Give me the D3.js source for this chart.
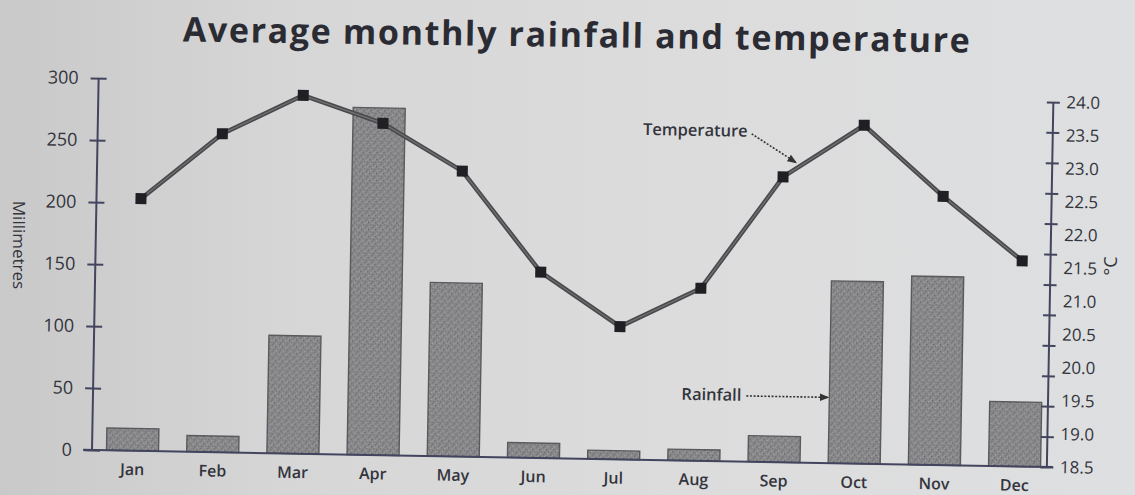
<!DOCTYPE html>
<html><head><meta charset="utf-8">
<script src="https://cdn.jsdelivr.net/npm/d3@7/dist/d3.min.js"></script>
<style>
html,body{margin:0;padding:0;background:#d8d8d9;}
svg{display:block;font-family:"Open Sans","Noto Sans",sans-serif;}
</style></head>
<body>
<svg id="chart" width="1135" height="495"></svg>
<script>
// ---- data ----
const months = ["Jan","Feb","Mar","Apr","May","Jun","Jul","Aug","Sep","Oct","Nov","Dec"];
const rainfall = [18, 13, 95, 280, 140, 12, 7, 9, 21, 147, 152, 52];          // mm
const temperature = [22.3, 23.3, 23.9, 23.5, 22.8, 21.3, 20.5, 21.1, 22.8, 23.6, 22.55, 21.6]; // °C
const rainTicks = [0, 50, 100, 150, 200, 250, 300];
const tempTicks = [18.5, 19.0, 19.5, 20.0, 20.5, 21.0, 21.5, 22.0, 22.5, 23.0, 23.5, 24.0];
const titleText = "Average monthly rainfall and temperature";

// ---- layout ----
const svg = d3.select("#chart");
const L = 92, R = 1047, B = 450, T = 78, TT = 85;
const ink = "#33343c";

// background (photographed page)
const defs = svg.append("defs");
const bg = defs.append("linearGradient").attr("id","bg").attr("x1","0").attr("x2","1").attr("y1","0").attr("y2","0");
bg.append("stop").attr("offset","0").attr("stop-color","#c9c9ca");
bg.append("stop").attr("offset","0.25").attr("stop-color","#d6d6d7");
bg.append("stop").attr("offset","0.6").attr("stop-color","#dcdcdd");
bg.append("stop").attr("offset","1").attr("stop-color","#dedfe0");
svg.append("rect").attr("width",1135).attr("height",495).attr("fill","url(#bg)");

// bar texture
const pat = defs.append("pattern").attr("id","tex").attr("patternUnits","userSpaceOnUse").attr("width",7).attr("height",7);
pat.append("rect").attr("width",7).attr("height",7).attr("fill","#88888a");
[[0,0,"#666668"],[3,1,"#a4a4a6"],[5,3,"#6c6c6e"],[1,4,"#a0a0a2"],[4,5,"#727274"],[6,6,"#9c9c9e"],[2,2,"#767678"],[5,0,"#9a9a9c"]]
  .forEach(([x,y,c]) => pat.append("rect").attr("x",x).attr("y",y).attr("width",1.3).attr("height",1.3).attr("fill",c));

const arrow = defs.append("marker").attr("id","arr").attr("viewBox","0 0 10 10").attr("refX",9).attr("refY",5)
  .attr("markerWidth",6).attr("markerHeight",6).attr("orient","auto");
arrow.append("path").attr("d","M0,1 L10,5 L0,9 Z").attr("fill","#333");

// title: spans the same width as in the reference
const title = svg.append("text").attr("x",577).attr("y",47).attr("text-anchor","middle")
  .attr("font-size",34).attr("font-weight",700).attr("fill","#2b2c33")
  .attr("transform","rotate(0.8,577,47)").text(titleText);
const tw = title.node().getComputedTextLength();
title.attr("letter-spacing", Math.max(0, (787 - tw) / (titleText.length - 1)).toFixed(2) + "px");

// side labels
svg.append("text").attr("transform","translate(13,245) rotate(90)").attr("text-anchor","middle")
  .attr("font-size",17).attr("fill",ink).text("Millimetres");
svg.append("text").attr("transform","translate(1117,266) rotate(-90)").attr("text-anchor","middle")
  .attr("font-size",18).attr("fill",ink).text("°C");

// chart group (page photographed slightly tilted)
const g = svg.append("g").attr("transform",`rotate(1.02,${L},${B})`);

const x = d3.scaleBand().domain(months).range([106.5, 1040.7]).paddingInner(0.3516).paddingOuter(0);
const yR = d3.scaleLinear().domain([0,300]).range([B, T]);
const yT = d3.scaleLinear().domain([18.5,24]).range([B, TT]);
const tickIdx = d3.scaleLinear().domain([0,12]).range([B, TT]);

// bars
g.selectAll("rect.bar").data(rainfall).join("rect").attr("class","bar")
  .attr("x",(d,i)=>x(months[i])).attr("width",x.bandwidth())
  .attr("y",d=>yR(d)).attr("height",d=>B-yR(d))
  .attr("fill","url(#tex)").attr("stroke","#5a5a5e").attr("stroke-width",1.4);

// axes
const axisColor = "#43455e";
const left = g.append("g").attr("transform",`translate(${L},0)`)
  .call(d3.axisLeft(yR).tickValues(rainTicks).tickSize(8).tickPadding(12));
left.selectAll(".tick line").attr("x1",-8).attr("x2",8);
left.select(".domain").attr("d",`M0,${T}V${B}`);

const bottom = g.append("g").attr("transform",`translate(0,${B})`)
  .call(d3.axisBottom(x).tickSize(0).tickPadding(13));
bottom.select(".domain").attr("d",`M${L-9},0H${R+6}`);

const rightTicks = g.append("g").attr("transform",`translate(${R},0)`)
  .call(d3.axisRight(tickIdx).ticks(12).tickFormat("").tickSize(6.5));
rightTicks.selectAll(".tick line").attr("x1",-6.5).attr("x2",6.5);
rightTicks.select(".domain").attr("d",`M0,${TT}V${B}`);
const rightLabels = g.append("g").attr("transform",`translate(${R},0)`)
  .call(d3.axisRight(yT).tickValues(tempTicks).tickFormat(d3.format(".1f")).tickSize(0).tickPadding(13));
rightLabels.select(".domain").remove();

[left, bottom, rightTicks].forEach(a => {
  a.selectAll(".domain").attr("stroke",axisColor).attr("stroke-width",2);
  a.selectAll(".tick line").attr("stroke",axisColor).attr("stroke-width",2);
});
left.selectAll("text").attr("font-size",18).attr("fill",ink).attr("font-family","Open Sans");
rightLabels.selectAll("text").attr("font-size",17).attr("fill",ink).attr("font-family","Open Sans");
bottom.selectAll("text").attr("font-size",16).attr("font-weight",600).attr("fill",ink).attr("font-family","Open Sans");

// temperature line
const px = i => x(months[i]) + x.bandwidth()/2 + 4;
const line = d3.line().x((d,i)=>px(i)).y(d=>yT(d));
g.append("path").datum(temperature).attr("d",line).attr("fill","none")
  .attr("stroke","#4a4a4d").attr("stroke-width",4.5).attr("stroke-linejoin","round");
g.append("path").datum(temperature).attr("d",line).attr("fill","none")
  .attr("stroke","#737377").attr("stroke-width",1.2);
g.selectAll("rect.pt").data(temperature).join("rect").attr("class","pt")
  .attr("x",(d,i)=>px(i)-5.5).attr("y",d=>yT(d)-5.5).attr("width",11).attr("height",11)
  .attr("fill","#1f1f24");

// annotations
const iS = months.indexOf("Sep"), iO = months.indexOf("Oct");
const t = 0.16;
const tipT = [px(iS) + t*(px(iO)-px(iS)), yT(temperature[iS]) + t*(yT(temperature[iO])-yT(temperature[iS])) - 6];
g.append("line").attr("x1",tipT[0]-45).attr("y1",tipT[1]-28).attr("x2",tipT[0]).attr("y2",tipT[1])
  .attr("stroke","#333").attr("stroke-width",1.6).attr("stroke-dasharray","2,1.6").attr("marker-end","url(#arr)");
g.append("text").attr("x",tipT[0]-49).attr("y",tipT[1]-25).attr("text-anchor","end")
  .attr("font-size",16.5).attr("font-weight",600).attr("fill",ink).text("Temperature");

const tipR = [x("Oct") - 1, yR(53)];
g.append("line").attr("x1",tipR[0]-82).attr("y1",tipR[1]).attr("x2",tipR[0]).attr("y2",tipR[1])
  .attr("stroke","#333").attr("stroke-width",1.6).attr("stroke-dasharray","2,1.6").attr("marker-end","url(#arr)");
g.append("text").attr("x",tipR[0]-87).attr("y",tipR[1]+5).attr("text-anchor","end")
  .attr("font-size",16.5).attr("font-weight",600).attr("fill",ink).text("Rainfall");
</script>
</body></html>
